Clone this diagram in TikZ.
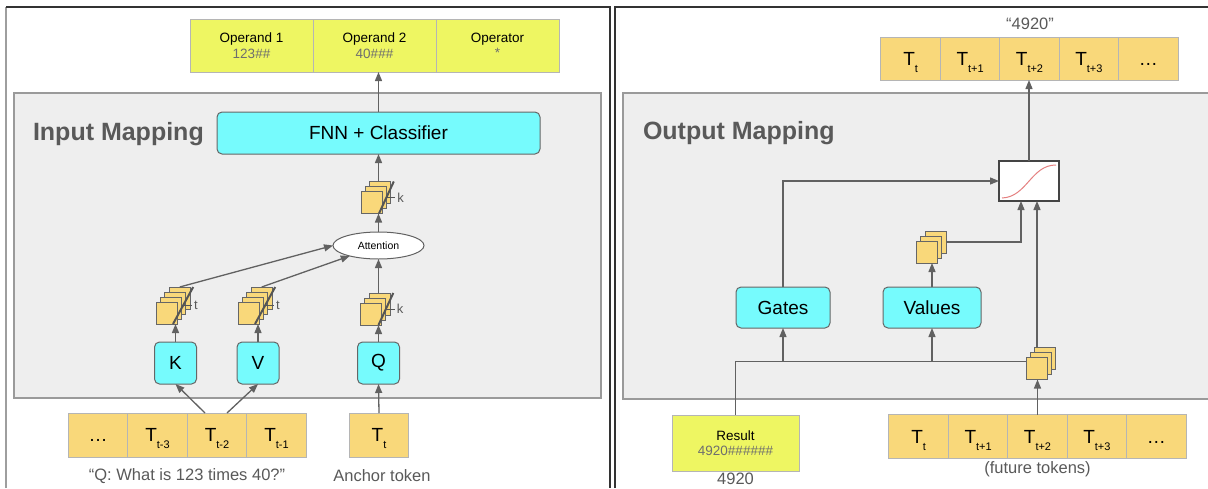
\documentclass[tikz,border=0pt]{standalone}
\usepackage{fontspec}
\setmainfont{Liberation Sans}
\usepackage{tikz}
\usetikzlibrary{arrows.meta,positioning,shapes.geometric}

\definecolor{framegray}{HTML}{9E9E9E}
\definecolor{frameblack}{HTML}{333333}
\definecolor{panelline}{HTML}{9A9A9A}
\definecolor{panelfill}{HTML}{EEEEEE}
\definecolor{tokfill}{HTML}{F9D87A}
\definecolor{tokline}{HTML}{B5B5B5}
\definecolor{opfill}{HTML}{EEF662}
\definecolor{cyanfill}{HTML}{76FBFD}
\definecolor{boxline}{HTML}{666666}
\definecolor{linecol}{HTML}{616161}
\definecolor{slantcol}{HTML}{555555}
\definecolor{sigline}{HTML}{444444}
\definecolor{sigred}{HTML}{E58080}
\definecolor{txtgray}{HTML}{595959}
\definecolor{valgray}{HTML}{6E6E6E}

\newcommand{\Tsub}[1]{T\raisebox{-7pt}[0pt][0pt]{\fontsize{11}{11}\selectfont #1}}

\begin{document}
\begin{tikzpicture}[x=1pt,y=1pt]
			\tikzstyle{every node}+=[inner sep=0pt, outer sep=0pt]
			\tikzstyle{panel}=[draw=panelline, fill=panelfill, line width=1.2pt]
			\tikzstyle{tok}=[draw=tokline, fill=tokfill, line width=1pt, minimum width=59.5pt, minimum height=44pt, font=\fontsize{19}{22}\selectfont]
			\tikzstyle{opnd}=[draw=tokline, fill=opfill, line width=1pt, minimum width=123pt, minimum height=53pt, align=center, font=\fontsize{13.5}{15.5}\selectfont]
			\tikzstyle{unitbox}=[draw=boxline, fill=cyanfill, rounded corners=5pt, line width=1pt, font=\fontsize{19}{22}\selectfont]
			\tikzstyle{vecsq}=[draw=boxline, fill=tokfill, line width=1pt, minimum width=21pt, minimum height=22pt]
			\tikzstyle{slant}=[draw=slantcol, line width=2pt]
			\tikzstyle{arr}=[draw=linecol, line width=1.3pt, -{Triangle[length=9pt,width=7pt]}]
			\tikzstyle{wire}=[draw=linecol, line width=1.3pt]
			\tikzstyle{maptitle}=[anchor=base west, text=txtgray, font=\fontsize{25}{28}\selectfont\bfseries]
			\tikzstyle{captxt}=[text=txtgray, font=\fontsize{16.5}{19}\selectfont]
			\tikzstyle{dimlbl}=[anchor=west, inner sep=2pt, text=txtgray, font=\fontsize{13}{15}\selectfont]
			\useasboundingbox (0,0) rectangle (1208,-488);
			\draw [framegray, line width=1.5pt] (6,-488) -- (6,-7);
			\draw [frameblack, line width=1.5pt] (6,-7) -- (610,-7) -- (610,-488);
			\draw [frameblack, line width=1.5pt] (615,-488) -- (615,-7) -- (1208,-7);
			\node [panel, minimum width=587pt, minimum height=305pt] (inmap) at (307.5,-245.5) {};
			\node [panel, minimum width=592pt, minimum height=306pt] (outmap) at (919,-246) {};
			\node [maptitle] (intitle) at (33,-140) {Input Mapping};
			\node [maptitle] (outtitle) at (643,-139) {Output Mapping};
			\node [opnd] (op1) at (251.5,-45.5) {Operand 1\\\textcolor{valgray}{123\#\#}};
			\node [opnd] (op2) at (374.5,-45.5) {Operand 2\\\textcolor{valgray}{40\#\#\#}};
			\node [opnd] (op3) at (497.5,-45.5) {Operator\\\textcolor{valgray}{*}};
			\node [unitbox, minimum width=323pt, minimum height=42pt] (fnn) at (378.5,-133) {FNN + Classifier};
			\node [draw=linecol, fill=white, ellipse, line width=1pt, minimum width=91pt, minimum height=27pt, font=\fontsize{10.5}{12}\selectfont] (att) at (378.5,-245.5) {Attention};
			\node [unitbox, minimum width=42pt, minimum height=42pt] (kb) at (175.5,-363) {K};
			\node [unitbox, minimum width=42pt, minimum height=42pt] (vb) at (258,-363) {V};
			\node [unitbox, minimum width=42pt, minimum height=42pt] (qb) at (378.5,-363) {Q};
			\foreach \i in {4,3,2,1}
				\node [vecsq] (ks\i) at (166.5+4.4*\i-4.4,-313+5*\i-5) {};
			\foreach \i in {4,3,2,1}
				\node [vecsq] (vs\i) at (248.5+4.4*\i-4.4,-313+5*\i-5) {};
			\foreach \i in {3,2,1}
				\node [vecsq] (qs\i) at (371+4.4*\i-4.4,-314+5*\i-5) {};
			\foreach \i in {3,2,1}
				\node [vecsq] (kt\i) at (371.5+4.4*\i-4.4,-202.5+5*\i-5) {};
			\draw [slant] ([xshift=-4pt]ks1.south east) -- coordinate (kmid) ([xshift=3pt]ks4.north east);
			\draw [slant, line width=1pt] (kmid) -- ++(9,0) node [dimlbl] (klbl) {t};
			\draw [slant] ([xshift=-4pt]vs1.south east) -- coordinate (vmid) ([xshift=3pt]vs4.north east);
			\draw [slant, line width=1pt] (vmid) -- ++(9,0) node [dimlbl] (vlbl) {t};
			\draw [slant] ([xshift=-3pt]qs1.south east) -- coordinate (qmid) ([xshift=3pt]qs3.north east);
			\draw [slant, line width=1pt] (qmid) -- ++(9,0) node [dimlbl] (qlbl) {k};
			\draw [slant] ([xshift=-3pt]kt1.south east) -- coordinate (tmid) ([xshift=3pt]kt3.north east);
			\draw [slant, line width=1pt] (tmid) -- ++(9,0) node [dimlbl] (tlbl) {k};
			\node [tok] (tdots) at (98,-435) {\vphantom{T}…};
			\node [tok] (tm3) at (157.5,-435) {\Tsub{t-3}};
			\node [tok] (tm2) at (217,-435) {\Tsub{t-2}};
			\node [tok] (tm1) at (276.5,-435) {\Tsub{t-1}};
			\node [tok] (tt) at (379,-435) {\Tsub{t}};
			\node [captxt] (qtext) at (187,-476) {“Q: What is 123 times 40?”};
			\node [captxt] (anchortext) at (382,-476) {Anchor token};
			\draw [arr] (fnn.north) -- (fnn.north |- op2.south);
			\draw [arr] (kt3.north -| fnn.south) -- (fnn.south);
			\draw [arr] (att.north) -- (att.north |- kt1.south);
			\draw [arr] (qs3.north -| att.south) -- (att.south);
			\draw [arr] (ks4.north) -- (att.west);
			\draw [arr] (vs4.north) -- (att.200);
			\draw [arr] (kb.north) -- (kb.north |- ks1.south);
			\draw [arr] (vb.north) -- (vb.north |- vs1.south);
			\draw [arr] (qb.north) -- (qb.north |- qs1.south);
			\draw [arr] ([xshift=-12pt]tm2.north) -- (kb.south);
			\draw [arr] ([xshift=10pt]tm2.north) -- (vb.south);
			\draw [arr] (tt.north) -- (qb.south);
			\node [tok, minimum height=43pt] (o1) at (910.7,-58.5) {\Tsub{t}};
			\node [tok, minimum height=43pt] (o2) at (970.1,-58.5) {\Tsub{t+1}};
			\node [tok, minimum height=43pt] (o3) at (1029.5,-58.5) {\Tsub{t+2}};
			\node [tok, minimum height=43pt] (o4) at (1088.9,-58.5) {\Tsub{t+3}};
			\node [tok, minimum height=43pt] (o5) at (1148.3,-58.5) {\vphantom{T}…};
			\node [captxt] (quote) at (1030,-24) {“4920”};
			\node [draw=sigline, fill=white, line width=2pt, minimum width=60pt, minimum height=40pt] (sig) at (1029,-181) {};
			\draw [sigred, line width=1pt] ([shift={(3,3)}]sig.south west) .. controls ([shift={(28,4)}]sig.south west) and ([shift={(-28,-4)}]sig.north east) .. ([shift={(-3,-4)}]sig.north east);
			\node [unitbox, minimum width=94pt, minimum height=41pt] (gates) at (783,-307.5) {Gates};
			\node [unitbox, minimum width=98pt, minimum height=41pt] (values) at (932,-307.5) {Values};
			\foreach \i in {3,2,1}
				\node [vecsq] (vs\i r) at (927+4.4*\i-4.4,-252+5*\i-5) {};
			\foreach \i in {3,2,1}
				\node [vecsq] (fs\i) at (1036.5+4.4*\i-4.4,-368.5+5*\i-5) {};
			\node [opnd, minimum width=127pt, minimum height=56pt] (result) at (735.5,-443) {Result\\\textcolor{valgray}{4920\#\#\#\#\#\#}};
			\node [captxt] (restext) at (735.5,-479) {4920};
			\node [tok] (f1) at (918.7,-436.5) {\Tsub{t}};
			\node [tok] (f2) at (978.1,-436.5) {\Tsub{t+1}};
			\node [tok] (f3) at (1037.5,-436.5) {\Tsub{t+2}};
			\node [tok] (f4) at (1096.9,-436.5) {\Tsub{t+3}};
			\node [tok] (f5) at (1156.3,-436.5) {\vphantom{T}…};
			\node [captxt] (futtext) at (1037.5,-469) {(future tokens)};
			\coordinate (bus) at ([yshift=7pt]fs1.west);
			\draw [arr] (sig.north) -- (sig.north |- o3.south);
			\draw [arr] (gates.north) |- (sig.west);
			\draw [arr] (vs3r.east) -| ([xshift=-8pt]sig.south);
			\draw [arr] ([xshift=8pt]sig.south |- fs3.north) -- ([xshift=8pt]sig.south);
			\draw [arr] (values.north) -- (values.north |- vs1r.south);
			\draw [wire] (result.north) |- (bus);
			\draw [arr] (gates.south |- bus) -- (gates.south);
			\draw [arr] (values.south |- bus) -- (values.south);
			\draw [arr] (f3.north) -- (f3.north |- fs1.south);
\end{tikzpicture}
\end{document}
